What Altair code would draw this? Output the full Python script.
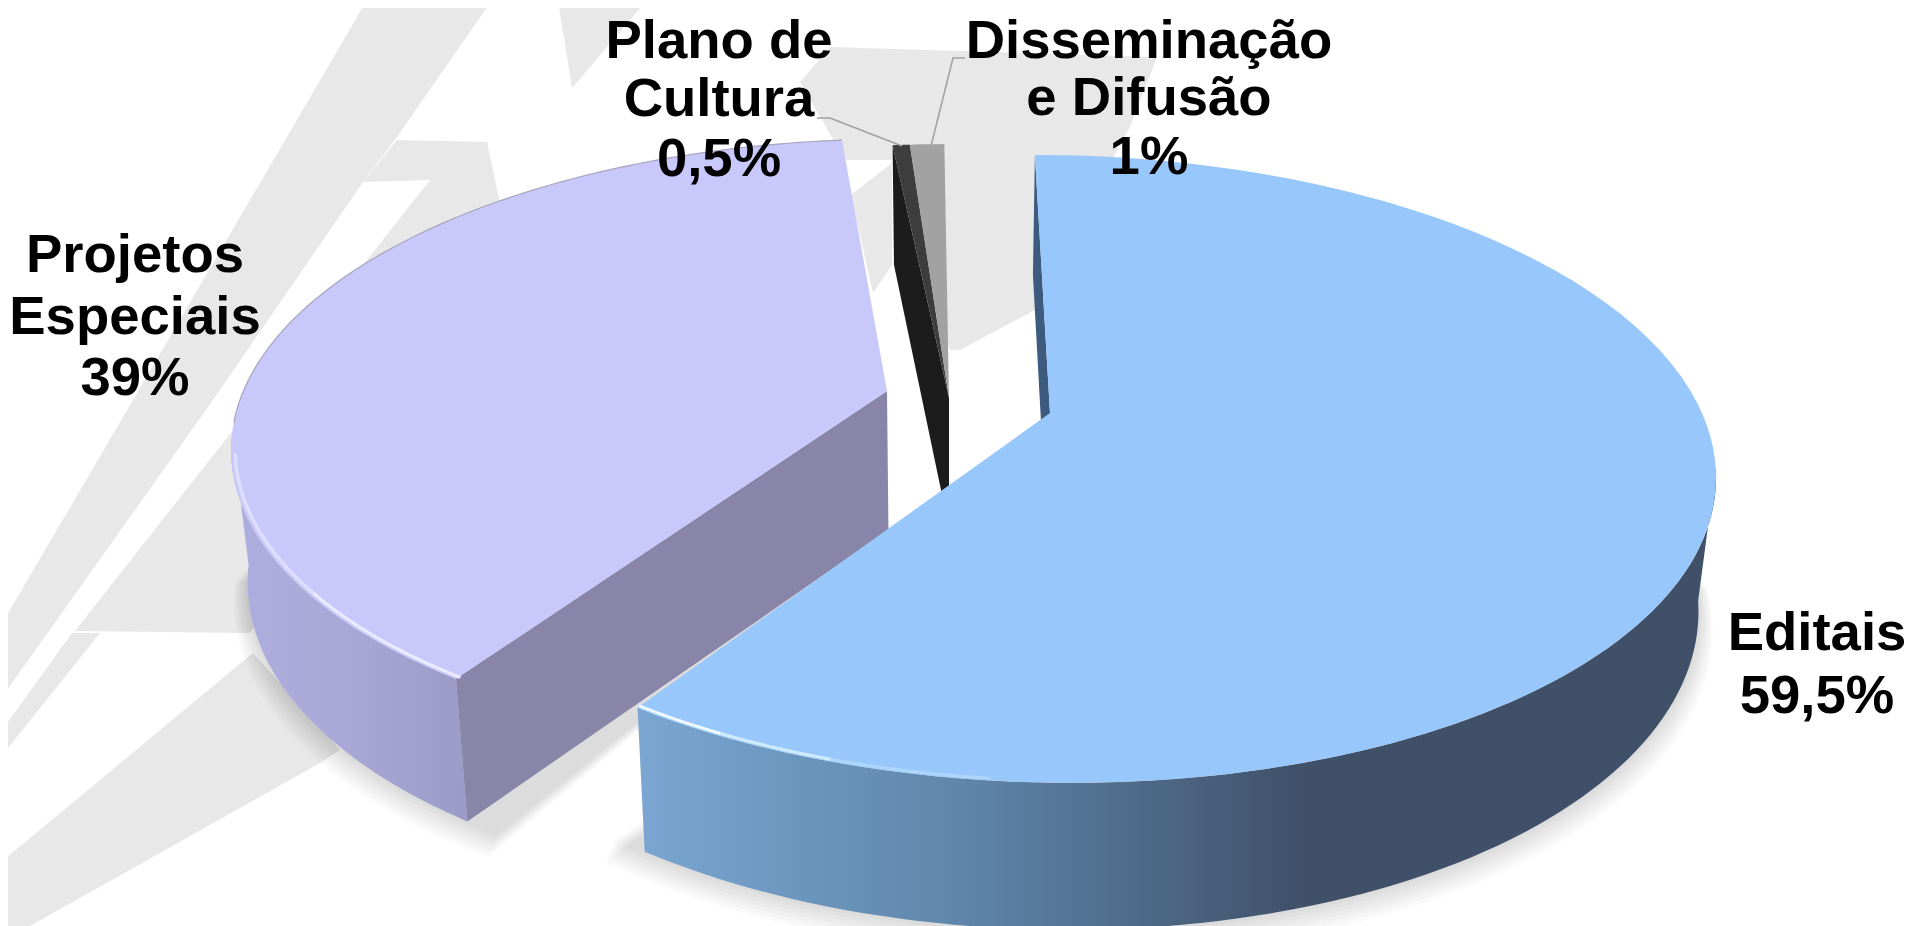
import math
import altair as alt
import pandas as pd

# ---- data -------------------------------------------------------------
CATEGORIES = ["Editais", "Projetos Especiais", "Plano de Cultura", "Disseminação e Difusão"]
SHARES = [59.5, 39.0, 0.5, 1.0]
LABEL_LINES = [["Editais", "59,5%"], ["Projetos", "Especiais", "39%"],
               ["Plano de", "Cultura", "0,5%"], ["Disseminação", "e Difusão", "1%"]]
LABEL_X = [1817, 135, 719, 1149]
LABEL_BASELINE = [[650, 713], [272, 334, 395], [58, 116, 176], [58, 115, 174]]

# ---- style and 3-D view -----------------------------------------------
XV, YH, H, A, P, C = 950.0, -1295.0, 1708.0, 652.0, 0.178, 0.977
APEX = {"Editais": (1050, 413), "Projetos Especiais": (887, 391),
        "Plano de Cultura": (949, 398), "Disseminação e Difusão": (949, 398)}
TILT = {"Editais": 0.0, "Projetos Especiais": -0.3,
        "Plano de Cultura": -0.5, "Disseminação e Difusão": -0.5}
WATERMARK = [
    [(367, 0), (492, 0), (397, 137), (363, 182), (213, 400), (0, 700), (0, 627), (133, 400)],
    [(397, 140), (487, 142), (510, 250), (400, 400), (250, 633), (75, 631), (430, 180), (363, 182)],
    [(72, 633), (100, 633), (0, 758), (0, 733)],
    [(253, 653), (340, 750), (320, 763), (30, 926), (0, 926), (0, 863)],
    [(558, 0), (572, 88), (647, 0)],
    [(830, 47), (1157, 57), (1130, 127), (1035, 300), (1035, 310), (960, 350), (950, 350),
     (892, 160), (845, 160), (800, 82)],
    [(851, 195), (892, 163), (892, 265), (873, 293)],
]

angles, a = {}, 0.0
for cat, share in zip(CATEGORIES, SHARES):
    angles[cat] = (a + TILT[cat], a + share * 3.6 + TILT[cat])
    a += share * 3.6


def top(cat, deg, r=1.0):
    ax, ay = APEX[cat]
    w0 = H / (ay - YH)
    t = math.radians(deg)
    w = w0 + P * r * math.cos(t)
    return (XV + (ax - XV) * w0 / w + A * r * math.sin(t) / w, YH + H / w, w)


def bottom(cat, deg, r=1.0):
    x, y, w = top(cat, deg, r)
    return (XV + (x - XV) * C, y + 57 + 74 / w)


def arc(fn, cat, d0, d1, r=1.0, n=80):
    return [fn(cat, d0 + (d1 - d0) * i / n, r)[:2] for i in range(n + 1)]


X = alt.Scale(domain=[8, 1907])
Y = alt.Scale(domain=[926, 8])
layers = []


def shape(pts, closed=True, **mark):
    df = pd.DataFrame({"px": [p[0] for p in pts], "py": [p[1] for p in pts], "i": range(len(pts))})
    if closed:
        mark.setdefault("strokeWidth", 0)
        mark["interpolate"] = "linear-closed"
    layers.append(
        alt.Chart(df).mark_line(clip=True, **mark).encode(
            x=alt.X("px:Q", scale=X, axis=None),
            y=alt.Y("py:Q", scale=Y, axis=None),
            order="i:Q",
        )
    )


def hgrad(stops):
    return alt.Gradient(gradient="linear", x1=0, y1=0, x2=1, y2=0,
                        stops=[alt.GradientStop(offset=o, color=c) for o, c in stops])


ED, PR, PL, DI = CATEGORIES
for poly in WATERMARK:
    shape(poly, fill="#e8e8e8", stroke="#e8e8e8")

# soft shadows
for k in range(7):
    rr = 1.0 + 0.003 * (7 - k)
    for cat, d0, d1 in ((ED, 95, angles[ED][1] + 3), (PR, angles[PR][0] - 3, 262)):
        pts = arc(bottom, cat, d0, d1, rr)
        pts = [(x, y + 2 + 2.4 * (6 - k)) for x, y in pts]
        shape(pts + [bottom(cat, 0, 0)], fill="#000000", opacity=0.018, stroke="#000000")

# Projetos Especiais
d0, d1 = angles[PR]
shape(arc(top, PR, d0, 262) + arc(bottom, PR, 262, d0),
      fill=hgrad([(0, "#aeaedf"), (0.45, "#aaa8d6"), (1, "#9c9ac6")]))
corner_b = bottom(PR, d0)
apex_b = bottom(PR, 0, 0)
shape([top(PR, d0)[:2], top(PR, 0, 0)[:2], (apex_b[0], apex_b[1] + 9), corner_b], fill="#8885a9")
shape(arc(top, PR, d0, d1) + [top(PR, 0, 0)[:2]], fill="#c8c8fa")
shape(arc(top, PR, d0, 258, 0.994), closed=False, stroke="#dedfff", strokeWidth=3.5, strokeCap="round")
shape(arc(top, PR, d0, 232, 0.994), closed=False, stroke="#eeeeff", strokeWidth=2, strokeCap="round")
shape(arc(top, PR, 264, d1), closed=False, stroke="#a6a6bc", strokeWidth=1.2)

# small slices
d0, d1 = angles[PL]
shape([top(PL, d0)[:2], bottom(PL, d0), bottom(PL, 0, 0), top(PL, 0, 0)[:2]], fill="#1c1c1c")
shape(arc(top, PL, d0, d1, n=6) + [top(PL, 0, 0)[:2]], fill="#3d3d3d")
d0, d1 = angles[DI]
shape(arc(top, DI, d0, d1, n=6) + [top(DI, 0, 0)[:2]], fill="#a2a2a2")

# Editais
d0, d1 = angles[ED]
shape([top(ED, d0)[:2], bottom(ED, d0), bottom(ED, 0, 0), top(ED, 0, 0)[:2]], fill="#3c5b7e")
shape(arc(top, ED, 100, d1) + arc(bottom, ED, d1, 100),
      fill=hgrad([(0, "#7aa6d1"), (0.3, "#5f86ab"), (0.62, "#3f5068"), (1, "#3f5068")]))
shape(arc(top, ED, d0, d1) + [top(ED, 0, 0)[:2]], fill="#97c7fb")
shape(arc(top, ED, d1, 186, 0.995), closed=False, stroke="#aed6fb", strokeWidth=3, strokeCap="round")
shape(arc(top, ED, d1, 198, 0.995), closed=False, stroke="#cfeaff", strokeWidth=3, strokeCap="round")
shape(arc(top, ED, d1, 207, 0.995), closed=False, stroke="#eefaff", strokeWidth=2.5, strokeCap="round")

# leader lines
shape([(817, 118), (830, 118), (902, 146)], closed=False, stroke="#a0a0a0", strokeWidth=1.5)
shape([(965, 58), (953, 58), (931, 146)], closed=False, stroke="#a0a0a0", strokeWidth=1.5)

# labels
rows = []
for xs, lines, ys in zip(LABEL_X, LABEL_LINES, LABEL_BASELINE):
    for line, yy in zip(lines, ys):
        rows.append({"tx": xs, "ty": yy, "t": line})
layers.append(
    alt.Chart(pd.DataFrame(rows)).mark_text(
        font="Liberation Sans", fontWeight="bold", fontSize=54.5, color="#000000",
        align="center", baseline="alphabetic",
    ).encode(
        x=alt.X("tx:Q", scale=X, axis=None),
        y=alt.Y("ty:Q", scale=Y, axis=None),
        text="t:N",
    )
)

chart = (
    alt.layer(*layers)
    .properties(width=1899, height=918, padding=0, autosize=alt.AutoSizeParams(type="none"),
                background="white")
    .configure_view(stroke=None)
)
chart.save("out.html", embed_options={"renderer": "svg", "actions": False})
